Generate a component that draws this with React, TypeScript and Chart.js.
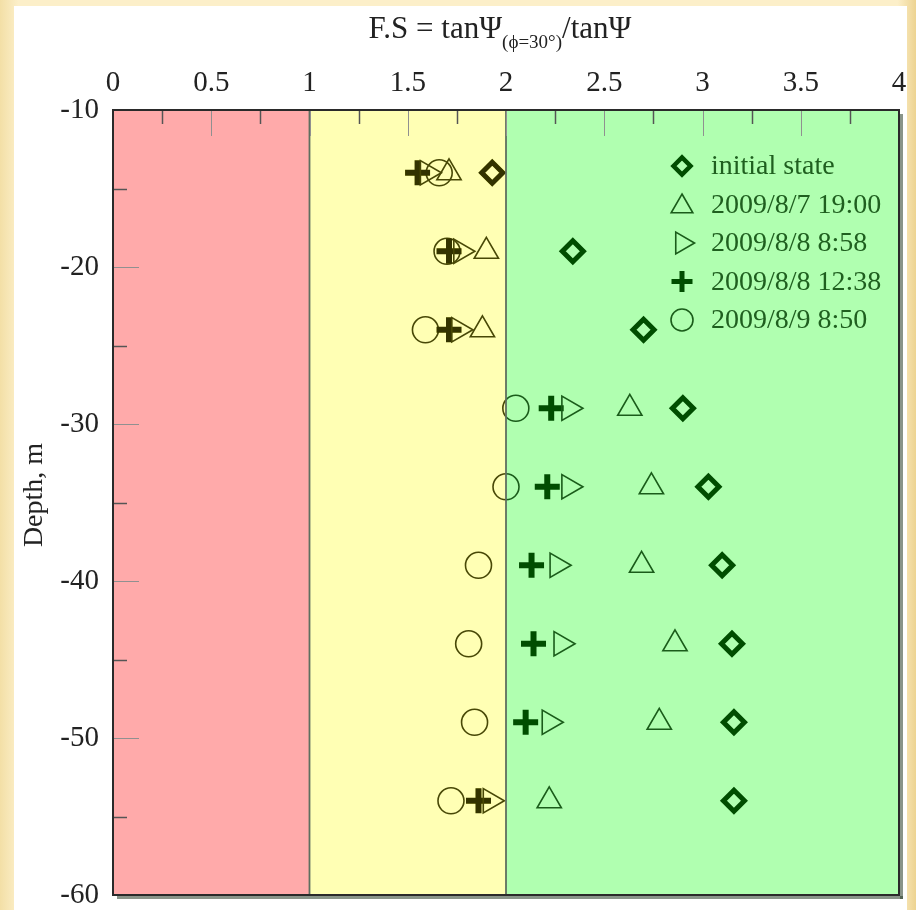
import React, { useEffect, useRef } from 'react';
import { Chart, registerables } from 'chart.js';
import { drawPoint } from 'chart.js/helpers';

Chart.register(...registerables);

// ---- data ----
const depths = [-14, -19, -24, -29, -34, -39, -44, -49, -54];
const initialState = [1.93, 2.34, 2.70, 2.90, 3.03, 3.10, 3.15, 3.16, 3.16];
const fs20090807_1900 = [1.71, 1.90, 1.88, 2.63, 2.74, 2.69, 2.86, 2.78, 2.22];
const fs20090808_0858 = [1.60, 1.77, 1.76, 2.32, 2.32, 2.26, 2.28, 2.22, 1.92];
const fs20090808_1238 = [1.55, 1.71, 1.71, 2.23, 2.21, 2.13, 2.14, 2.10, 1.86];
const fs20090809_0850 = [1.66, 1.70, 1.59, 2.05, 2.00, 1.86, 1.81, 1.84, 1.72];
const seriesLabels = ['initial state', '2009/8/7 19:00', '2009/8/8 8:58', '2009/8/8 12:38', '2009/8/9 8:50'];
const zoneBounds = [0, 1, 2, 4];
const xRange = [0, 4];
const yRange = [-60, -10];

const FONT = '"Liberation Serif", "DejaVu Serif", serif';
const zoneColors = ['#ffaaaa', '#ffffb4', '#b0ffb0'];
const PAD = { left: 14, top: 6, right: 17, bottom: 15 };

const markerStyles = [
  { pointStyle: 'rectRot', rotation: 0, radius: 10.5, borderWidth: 5, color: '#004d00', lr: 8.5, lw: 4.5 },
  { pointStyle: 'triangle', rotation: 0, radius: 14, borderWidth: 1.6, color: '#1a5c1a', lr: 12.5, lw: 1.6 },
  { pointStyle: 'triangle', rotation: 90, radius: 14, borderWidth: 1.6, color: '#1a5c1a', lr: 12.5, lw: 1.6 },
  { pointStyle: 'cross', rotation: 0, radius: 12.5, borderWidth: 6, color: '#004d00', lr: 10.5, lw: 5 },
  { pointStyle: 'circle', rotation: 0, radius: 13, borderWidth: 1.6, color: '#1a5c1a', lr: 11, lw: 1.6 },
];

const seriesValues = [initialState, fs20090807_1900, fs20090808_0858, fs20090808_1238, fs20090809_0850];

const decorPlugin = {
  id: 'decor',
  afterLayout(chart: any) {
    const ca = chart.chartArea;
    const targetBottom = chart.height - PAD.bottom;
    const targetRight = chart.width - PAD.right;
    ca.bottom = targetBottom;
    ca.height = ca.bottom - ca.top;
    ca.right = targetRight;
    ca.width = ca.right - ca.left;
    const { x, y } = chart.scales;
    y.bottom = targetBottom;
    y.height = y.bottom - y.top;
    y.configure();
    x.right = targetRight;
    x.width = x.right - x.left;
    x.configure();
  },
  beforeDraw(chart: any) {
    const { ctx, width, height } = chart;
    ctx.save();
    const g = ctx.createLinearGradient(0, 0, width, 0);
    g.addColorStop(0, '#f3dfa6');
    g.addColorStop(0.02, '#fcefc9');
    g.addColorStop(0.98, '#fcefc9');
    g.addColorStop(1, '#edd391');
    ctx.fillStyle = g;
    ctx.fillRect(0, 0, width, height);
    ctx.fillStyle = '#ffffff';
    ctx.fillRect(14, 6, 893, height - 6);
    ctx.restore();
  },
  beforeDatasetsDraw(chart: any) {
    const { ctx, chartArea, scales } = chart;
    const x = scales.x;
    ctx.save();
    for (let i = 0; i < zoneBounds.length - 1; i++) {
      const a = x.getPixelForValue(zoneBounds[i]);
      const b = x.getPixelForValue(zoneBounds[i + 1]);
      ctx.fillStyle = zoneColors[i];
      ctx.fillRect(a, chartArea.top, b - a, chartArea.bottom - chartArea.top);
    }
    ctx.restore();
  },
  afterDatasetsDraw(chart: any) {
    const { ctx, chartArea, scales } = chart;
    const x = scales.x;
    const y = scales.y;
    const { left, right, top, bottom } = chartArea;
    ctx.save();
    // marks inside the yellow zone appear olive
    const a = x.getPixelForValue(zoneBounds[1]);
    const b = x.getPixelForValue(zoneBounds[2]);
    ctx.globalCompositeOperation = 'hue';
    ctx.fillStyle = '#808000';
    ctx.fillRect(a, top, b - a, bottom - top);
    ctx.globalCompositeOperation = 'source-over';

    // zone boundary lines
    ctx.strokeStyle = '#5f6f5f';
    ctx.lineWidth = 1.8;
    for (const v of [zoneBounds[1], zoneBounds[2]]) {
      const px = x.getPixelForValue(v);
      ctx.beginPath();
      ctx.moveTo(px, top);
      ctx.lineTo(px, bottom);
      ctx.stroke();
    }

    // inward ticks on top axis
    for (let v = xRange[0] + 0.25; v < xRange[1] - 0.01; v += 0.25) {
      const px = Math.round(x.getPixelForValue(v)) + 0.5;
      const major = Math.abs(v * 2 - Math.round(v * 2)) < 1e-6;
      ctx.strokeStyle = major ? '#909090' : '#555555';
      ctx.lineWidth = major ? 1 : 1.5;
      ctx.beginPath();
      ctx.moveTo(px, top);
      ctx.lineTo(px, top + (major ? 26 : 14));
      ctx.stroke();
    }
    // inward ticks on left axis
    for (let v = yRange[0] + 5; v < yRange[1]; v += 5) {
      const py = Math.round(y.getPixelForValue(v)) + 0.5;
      const major = v % 10 === 0;
      ctx.strokeStyle = major ? '#909090' : '#555555';
      ctx.lineWidth = major ? 1 : 1.5;
      ctx.beginPath();
      ctx.moveTo(left, py);
      ctx.lineTo(left + (major ? 26 : 14), py);
      ctx.stroke();
    }

    // frame with shadow
    ctx.fillStyle = 'rgba(40,60,40,0.55)';
    ctx.fillRect(right + 1, top + 4, 3, bottom - top);
    ctx.fillRect(left + 4, bottom + 1, right - left, 3);
    ctx.strokeStyle = '#2a2a2a';
    ctx.lineWidth = 2;
    ctx.strokeRect(left, top, right - left, bottom - top);

    // legend
    const lx = 682;
    const tx = 711;
    const ly0 = 166;
    const dy = 38.5;
    ctx.font = `28px ${FONT}`;
    ctx.textBaseline = 'middle';
    ctx.textAlign = 'left';
    for (let i = 0; i < seriesLabels.length; i++) {
      const m = markerStyles[i];
      const yy = ly0 + i * dy;
      ctx.strokeStyle = m.color;
      ctx.fillStyle = 'rgba(0,0,0,0)';
      ctx.lineWidth = m.lw;
      drawPoint(ctx, { pointStyle: m.pointStyle, rotation: m.rotation, radius: m.lr, borderWidth: m.lw } as any, lx, yy + (m.pointStyle === 'triangle' && m.rotation === 0 ? 2 : 0));
      ctx.fillStyle = '#1f5f1f';
      ctx.fillText(seriesLabels[i], tx, yy + 1);
    }
    ctx.restore();
  },
  afterDraw(chart: any) {
    const { ctx } = chart;
    ctx.save();
    ctx.fillStyle = '#222222';
    // top title with subscript
    const p1 = 'F.S = tan\u03A8';
    const sub = '(\u03D5=30\u00B0)';
    const p2 = '/tan\u03A8';
    ctx.font = `31px ${FONT}`;
    const w1 = ctx.measureText(p1).width;
    const w3 = ctx.measureText(p2).width;
    ctx.font = `19px ${FONT}`;
    const w2 = ctx.measureText(sub).width;
    const total = w1 + w2 + w3;
    let cx = 500 - total / 2;
    ctx.textBaseline = 'alphabetic';
    ctx.textAlign = 'left';
    ctx.font = `31px ${FONT}`;
    ctx.fillText(p1, cx, 38);
    cx += w1;
    ctx.font = `19px ${FONT}`;
    ctx.fillText(sub, cx, 48);
    cx += w2;
    ctx.font = `31px ${FONT}`;
    ctx.fillText(p2, cx, 38);

    // y axis title
    ctx.translate(35, 495);
    ctx.rotate(-Math.PI / 2);
    ctx.textAlign = 'center';
    ctx.textBaseline = 'middle';
    ctx.font = `28px ${FONT}`;
    ctx.fillText('Depth, m', 0, 0);
    ctx.restore();
  },
};

export default function App() {
  const ref = useRef<HTMLCanvasElement | null>(null);
  useEffect(() => {
    if (!ref.current) return;
    const datasets = seriesValues.map((vals, i) => {
      const m = markerStyles[i];
      return {
        label: seriesLabels[i],
        data: depths.map((d, j) => ({ x: vals[j], y: d })),
        showLine: false,
        pointStyle: m.pointStyle,
        rotation: m.rotation,
        pointRadius: m.radius,
        pointHoverRadius: m.radius,
        pointBorderWidth: m.borderWidth,
        borderColor: m.color,
        backgroundColor: 'rgba(0,0,0,0)',
        pointBackgroundColor: 'rgba(0,0,0,0)',
        pointBorderColor: m.color,
      };
    });
    const chart = new Chart(ref.current, {
      type: 'scatter',
      data: { datasets: datasets as any },
      options: {
        animation: false,
        responsive: false,
        events: [],
        layout: { padding: PAD },
        plugins: {
          legend: { display: false },
          tooltip: { enabled: false },
          title: { display: false },
        },
        scales: {
          x: {
            type: 'linear',
            position: 'top',
            min: xRange[0],
            max: xRange[1],
            grid: { display: false, drawTicks: false },
            border: { display: false },
            ticks: {
              stepSize: 0.5,
              padding: 12,
              color: '#222222',
              font: { family: FONT, size: 29, lineHeight: 1 },
              maxRotation: 0,
              autoSkip: false,
              callback: (v: any) => String(Number(v)),
            },
            afterFit: (s: any) => {
              s.height = 104;
              s.paddingLeft = 0;
              s.paddingRight = 0;
              s.paddingTop = 0;
              s.paddingBottom = 0;
            },
          },
          y: {
            type: 'linear',
            min: yRange[0],
            max: yRange[1],
            grid: { display: false, drawTicks: false },
            border: { display: false },
            ticks: {
              stepSize: 10,
              padding: 14,
              color: '#222222',
              font: { family: FONT, size: 29, lineHeight: 1 },
              autoSkip: false,
              callback: (v: any) => String(Number(v)),
            },
            afterFit: (s: any) => {
              s.width = 99;
              s.paddingLeft = 0;
              s.paddingRight = 0;
              s.paddingTop = 0;
              s.paddingBottom = 0;
            },
          },
        },
      },
      plugins: [decorPlugin],
    });
    return () => chart.destroy();
  }, []);
  return (
    <div style={{ position: 'absolute', left: 0, top: 0, width: 916, height: 910 }}>
      <canvas ref={ref} width={916} height={910} style={{ display: 'block', width: 916, height: 910 }} />
    </div>
  );
}
